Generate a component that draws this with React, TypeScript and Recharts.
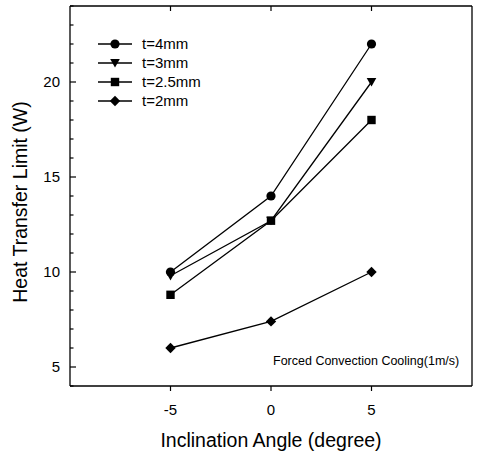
import React from "react";
import { LineChart, Line, XAxis, YAxis } from "recharts";

const angles = [-5, 0, 5];
const t4mm = [10.0, 14.0, 22.0];
const t3mm = [9.8, 12.7, 20.0];
const t25mm = [8.8, 12.7, 18.0];
const t2mm = [6.0, 7.4, 10.0];

const seriesNames = ["t=4mm", "t=3mm", "t=2.5mm", "t=2mm"];
const seriesKeys = ["t4", "t3", "t25", "t2"];
const seriesShapes = ["circle", "triangle", "square", "diamond"];

const xTicks = [-5, 0, 5];
const yTicks = [4, 5, 6, 7, 8, 9, 10, 11, 12, 13, 14, 15, 16, 17, 18, 19, 20, 21, 22, 23, 24];

const data = angles.map((a, i) => ({
  x: a,
  t4: t4mm[i],
  t3: t3mm[i],
  t25: t25mm[i],
  t2: t2mm[i],
}));

const FONT = "'Liberation Sans', Arial, Helvetica, sans-serif";

function Marker({ shape, cx, cy }: { shape: string; cx: number; cy: number }) {
  if (cx == null || cy == null) return null;
  if (shape === "circle") return <circle cx={cx} cy={cy} r={4.6} fill="#000" />;
  if (shape === "triangle")
    return <polygon points={`${cx - 4.8},${cy - 4} ${cx + 4.8},${cy - 4} ${cx},${cy + 4.6}`} fill="#000" />;
  if (shape === "square") return <rect x={cx - 4.2} y={cy - 4.2} width={8.4} height={8.4} fill="#000" />;
  return <polygon points={`${cx},${cy - 5.2} ${cx + 5.2},${cy} ${cx},${cy + 5.2} ${cx - 5.2},${cy}`} fill="#000" />;
}

const isMajor = (v: number) => Math.abs(v % 5) < 1e-6;

const LeftTick = (props: any) => {
  const { x, y, payload } = props;
  const v = payload.value;
  const major = isMajor(v);
  return (
    <g>
      <path d={`M${x},${y}h${major ? 6 : 3.5}`} stroke="#000" strokeWidth={1.2} fill="none" />
      {major && (
        <text x={x - 10} y={y} dy="0.36em" textAnchor="end" fontSize={15} fontFamily={FONT} fill="#000" stroke="none">
          {v}
        </text>
      )}
    </g>
  );
};

const RightTick = (props: any) => {
  const { x, y, payload } = props;
  const major = isMajor(payload.value);
  const w = major ? 6 : 3.5;
  return (
    <g>
      <path d={`M${x},${y}h${-w}`} stroke="#000" strokeWidth={1.2} fill="none" />
    </g>
  );
};

const BottomTick = (props: any) => {
  const { x, y, payload } = props;
  return (
    <g>
      <path d={`M${x},${y}v5`} stroke="#000" strokeWidth={1.2} fill="none" />
      <text x={x} y={y + 24} dy="0.36em" textAnchor="middle" fontSize={15} fontFamily={FONT} fill="#000" stroke="none">
        {payload.value}
      </text>
    </g>
  );
};

const TopTick = (props: any) => {
  const { x, y } = props;
  return (
    <g>
      <path d={`M${x},${y}v5`} stroke="#000" strokeWidth={1.2} fill="none" />
    </g>
  );
};

export default function App() {
  return (
    <div style={{ position: "absolute", left: 0, top: 0, width: 479, height: 455, background: "#fff" }}>
      <LineChart width={479} height={455} data={data} margin={{ top: 0, right: 0, bottom: 0, left: 0 }}>
        <XAxis
          xAxisId="bottom"
          dataKey="x"
          type="number"
          domain={[-10, 10]}
          ticks={xTicks}
          height={69}
          tickSize={0}
          tickMargin={0}
          tickLine={false}
          axisLine={{ stroke: "#000", strokeWidth: 1.3 }}
          tick={BottomTick}
          interval={0}
          label={{
            value: "Inclination Angle (degree)",
            position: "insideBottom",
            offset: 8,
            fontSize: 19.5,
            fontFamily: FONT,
            fill: "#000",
          }}
        />
        <XAxis
          xAxisId="top"
          orientation="top"
          dataKey="x"
          type="number"
          domain={[-10, 10]}
          ticks={xTicks}
          height={6}
          tickSize={0}
          tickMargin={0}
          tickLine={false}
          axisLine={{ stroke: "#000", strokeWidth: 1.3 }}
          tick={TopTick}
          interval={0}
        />
        <YAxis
          yAxisId="left"
          type="number"
          domain={[4, 24]}
          ticks={yTicks}
          width={70}
          tickSize={0}
          tickMargin={0}
          tickLine={false}
          axisLine={{ stroke: "#000", strokeWidth: 1.3 }}
          tick={LeftTick}
          interval={0}
          label={{
            value: "Heat Transfer Limit (W)",
            angle: -90,
            position: "insideLeft",
            offset: 20,
            dy: 6,
            fontSize: 19.5,
            fontFamily: FONT,
            fill: "#000",
            style: { textAnchor: "middle" },
          }}
        />
        <YAxis
          yAxisId="right"
          orientation="right"
          type="number"
          domain={[4, 24]}
          ticks={yTicks}
          width={7}
          tickSize={0}
          tickMargin={0}
          tickLine={false}
          axisLine={{ stroke: "#000", strokeWidth: 1.3 }}
          tick={RightTick}
          interval={0}
        />
        {seriesKeys.map((k, i) => (
          <Line
            key={k}
            xAxisId="bottom"
            yAxisId="left"
            dataKey={k}
            name={seriesNames[i]}
            stroke="#000"
            strokeWidth={1.3}
            isAnimationActive={false}
            dot={(p: any) => <Marker key={`${k}-${p.index}`} shape={seriesShapes[i]} cx={p.cx} cy={p.cy} />}
            activeDot={false}
          />
        ))}
      </LineChart>
      <svg width={120} height={80} style={{ position: "absolute", left: 90, top: 32 }}>
        {seriesNames.map((n, i) => {
          const y = 12 + i * 19;
          return (
            <g key={n}>
              <line x1={8} x2={42} y1={y} y2={y} stroke="#000" strokeWidth={1.3} />
              <Marker shape={seriesShapes[i]} cx={25} cy={y} />
              <text x={52} y={y} dy="0.36em" fontSize={15} fontFamily={FONT} fill="#000">
                {n}
              </text>
            </g>
          );
        })}
      </svg>
      <div
        style={{
          position: "absolute",
          left: 273,
          top: 353,
          fontSize: 12.5,
          fontFamily: FONT,
          color: "#000",
          whiteSpace: "nowrap",
          lineHeight: "16px",
        }}
      >
        Forced Convection Cooling(1m/s)
      </div>
    </div>
  );
}
